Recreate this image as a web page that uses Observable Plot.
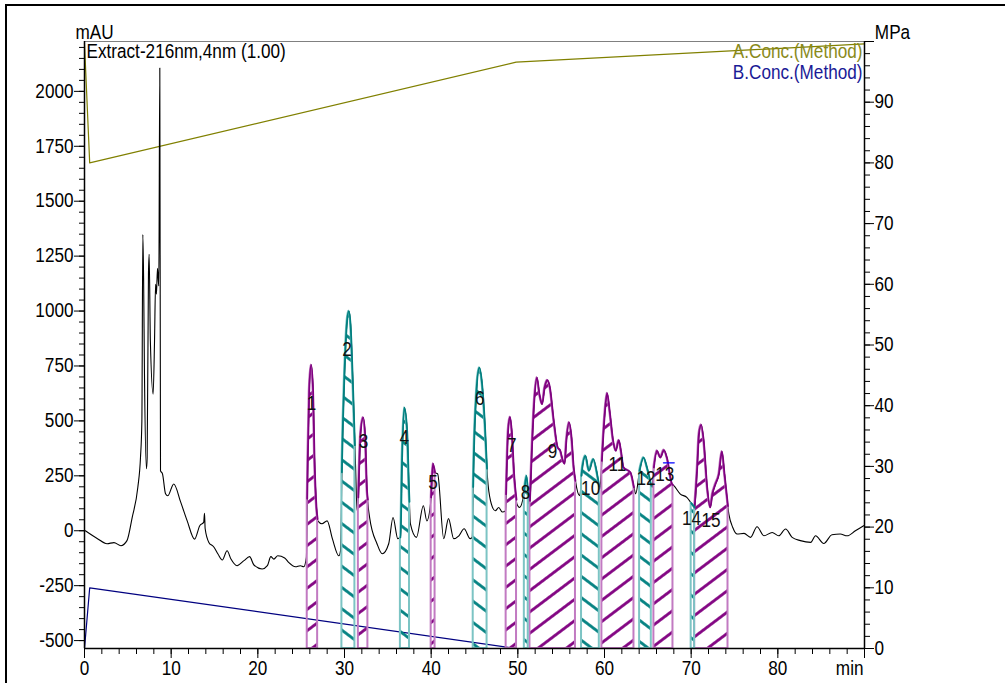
<!DOCTYPE html>
<html><head><meta charset="utf-8">
<script src="https://cdn.jsdelivr.net/npm/d3@7"></script>
<script src="https://cdn.jsdelivr.net/npm/@observablehq/plot@0.6"></script>
<style>
body{margin:0;background:#fff;}
#wrap{position:relative;width:1005px;height:683px;overflow:hidden;background:#fff;}
#border{position:absolute;left:5px;top:4px;width:1010px;height:690px;border-top:2px solid #000;border-left:2px solid #000;pointer-events:none;}
</style></head><body><div id="wrap"><div id="border"></div></div>
<script>
// ---- data ----
const signal = [
[0.1,0],[1.5,-36],[2.6,-59],[3.4,-54],[4.2,-68],[4.9,-45],[5.5,60],[6.15,197],[6.46,333],[6.62,500],[6.73,1348],[6.82,1150],[6.92,713],[7.15,282],[7.23,333],[7.38,1168],[7.46,1258],[7.6,864],[7.92,622],[8.08,864],[8.2,1122],[8.3,1077],[8.42,1195],[8.57,1114],[8.69,2106],[8.77,273],[9.0,259],[9.35,168],[9.6,159],[10.3,213],[11.1,130],[11.85,45],[12.7,-38],[13.3,23],[13.75,38],[13.85,79],[13.92,10],[14.35,-53],[14.9,-73],[15.4,-106],[15.9,-133],[16.45,-91],[16.9,-129],[17.6,-159],[18.4,-136],[19.05,-118],[19.55,-156],[20.5,-174],[21.1,-159],[21.5,-118],[21.85,-129],[22.3,-114],[23.1,-124],[23.55,-144],[24.35,-164],[24.9,-159],[25.3,-164],[25.6,-121],
[25.77,333],[25.93,636],[26.15,755],[26.38,636],[26.54,333],[26.77,106],[26.92,45],[27.4,32],[28,45],[28.6,-36],[29.35,-114],[29.54,-91],
[29.73,333],[30.0,712],[30.3,955],[30.5,1000],[30.7,940],[31.0,636],[31.27,303],[31.45,91],
[31.6,152],[31.85,440],[32.15,515],[32.4,424],[32.6,182],[32.9,60],[33.75,-59],[34.35,-105],[35.1,-59],[35.6,60],[36.15,-36],[36.46,-30],
[36.65,333],[36.9,560],[37.23,455],[37.45,182],[37.6,32],[38.3,-30],[39.1,114],[39.5,45],
[40.0,152],[40.2,305],[40.45,265],[40.75,259],[41.45,-36],[42,55],[42.6,-36],[43.2,-23],[43.8,9],[44.5,-36],[44.73,-30],
[44.92,333],[45.23,636],[45.55,742],[45.88,667],[46.2,485],[46.5,242],[46.85,136],[47.4,91],[47.8,106],[48.2,85],[48.6,91],
[48.7,242],[48.88,455],[49.1,518],[49.3,455],[49.6,242],[49.9,121],[50.2,106],
[50.7,167],[51.0,250],[51.3,121],[51.4,136],
[51.65,394],[51.9,591],[52.2,697],[52.5,621],[52.8,576],[53.1,652],[53.4,685],[53.7,652],[54.15,500],[54.6,379],[54.9,364],[55.2,318],[55.4,305],[55.6,409],[55.9,493],[56.2,424],[56.45,288],[56.65,227],[57.15,159],
[57.4,273],[57.8,341],[58.2,273],[58.7,326],[59.15,258],[59.45,189],
[59.7,318],[60.0,515],[60.3,626],[60.6,545],[61.0,409],[61.3,364],[61.65,412],[61.9,364],[62.2,288],[63.0,265],[63.4,197],[63.6,168],
[64.05,273],[64.5,333],[64.9,288],[65.4,205],[65.5,197],
[65.7,288],[66.05,364],[66.45,333],[66.85,367],[67.2,333],[67.8,212],[68.0,205],[68.75,167],[69.5,152],[70.1,121],
[70.4,106],[70.7,288],[70.9,440],[71.15,482],[71.45,409],[71.85,197],[72.2,106],[72.45,167],[72.8,212],[73.2,258],[73.55,361],[73.85,258],[74.35,76],[74.8,15],[75.3,-15],[76.1,-12],[76.85,-30],[77.6,18],[78.4,-23],[79.35,-8],[80.1,-23],[80.9,8],[81.65,-30],[82.6,-45],[83.8,-53],[84.35,-23],[85.3,-58],[86.25,-18],[87.2,-15],[88,-23],[88.95,0],[89.9,23]
];
// peaks
const peakIds    = [1,2,3,4,5,6,7,8,9,10,11,12,13,14,15];
const peakStart  = [25.7,29.7,31.6,36.45,40.0,44.85,48.65,50.75,51.4,57.35,59.7,64.05,65.7,70.0,70.4];
const peakEnd    = [26.9,31.2,32.7,37.5,40.45,46.45,49.85,51.2,56.65,59.4,63.4,65.4,67.9,70.4,74.25];
const peakKind   = ["P","T","P","T","P","T","P","T","P","T","P","T","P","T","P"];
const labelT     = [26.2,30.3,32.2,36.9,40.2,45.6,49.3,50.9,54.0,58.4,61.5,64.8,66.95,70.05,72.3];
const labelV     = [577,823,405,423,218,600,386,173,359,191,300,236,255,55,45];
// pump concentrations, in MPa (right axis)
const concA = [[0,99.7],[0.6,80],[49.8,96.6],[90,99.6]];
const concB = [[0,0],[0.6,10],[49.85,0],[90,0]];
const blueMark = [[66.8,309],[68.05,309]];
// ticks
const leftMajor  = [-500,-250,0,250,500,750,1000,1250,1500,1750,2000];
const rightMajor = [0,10,20,30,40,50,60,70,80,90,100];
const xMajor     = [0,10,20,30,40,50,60,70,80,90];
const xLabels    = ["0","10","20","30","40","50","60","70","80",""];

// ---- scales helpers ----
const YMIN = -536, YMAX = 2227;
const toY = p => YMIN + p * (YMAX - YMIN) / 100;
const fromY = v => Math.round((v - YMIN) / (YMAX - YMIN) * 100);
const FONT = "'Liberation Sans',Arial,sans-serif";
const FS = 19.5;
const SX = 0.88; // horizontal condensing of all text (narrow face)

const sig = signal.map(([t, v]) => ({t, v}));
function valAt(t) {
  const i = d3.bisector(d => d.t).right(sig, t);
  const a = sig[Math.max(0, i - 1)], b = sig[Math.min(sig.length - 1, i)];
  if (b.t === a.t) return a.v;
  return a.v + (b.v - a.v) * (t - a.t) / (b.t - a.t);
}
const peakPts = [];
peakIds.forEach((id, k) => {
  const s = peakStart[k], e = peakEnd[k], kind = peakKind[k];
  peakPts.push({id, kind, t: s, v: valAt(s)});
  sig.filter(d => d.t > s && d.t < e).forEach(d => peakPts.push({id, kind, t: d.t, v: d.v}));
  peakPts.push({id, kind, t: e, v: valAt(e)});
});
const purple = peakPts.filter(d => d.kind === "P");
const teal = peakPts.filter(d => d.kind === "T");
const labels = peakIds.map((id, k) => ({text: String(id), t: labelT[k], v: labelV[k]}));

const minorLeft = d3.range(-500, 2201, 50);
const minorRight = d3.range(0, 101, 2).map(toY);
const minorX = d3.range(0, 91, 2);

const curve = "monotone-x";
const chart = Plot.plot({
  width: 1005, height: 683,
  marginLeft: 84, marginRight: 141, marginTop: 41, marginBottom: 35,
  x: {domain: [0, 90], axis: null},
  y: {domain: [YMIN, YMAX], axis: null},
  style: {fontFamily: FONT, fontSize: FS + "px", background: "transparent", color: "#000"},
  marks: [
    Plot.ruleY([YMAX], {stroke: "#808080", strokeWidth: 1.2}),
    Plot.line(concA, {x: d => d[0], y: d => toY(d[1]), stroke: "#808000", strokeWidth: 1.2}),
    Plot.line(concB, {x: d => d[0], y: d => toY(d[1]), stroke: "#000080", strokeWidth: 1.2}),
    Plot.line(sig, {x: "t", y: "v", stroke: "#000", strokeWidth: 1.1, curve}),
    Plot.areaY(purple, {x: "t", y1: d => YMIN, y2: "v", z: "id", fill: "url(#hatchP)", stroke: "#c27ac2", strokeWidth: 2, curve}),
    Plot.areaY(teal, {x: "t", y1: d => YMIN, y2: "v", z: "id", fill: "url(#hatchT)", stroke: "#7cc4c4", strokeWidth: 2, curve}),
    Plot.line(purple, {x: "t", y: "v", z: "id", stroke: "#800080", strokeWidth: 1.8, curve}),
    Plot.line(teal, {x: "t", y: "v", z: "id", stroke: "#008080", strokeWidth: 1.8, curve}),
    Plot.line(blueMark, {x: d => d[0], y: d => d[1], stroke: "#0000ff", strokeWidth: 1.2}),
    Plot.ruleX([0], {stroke: "#000", strokeWidth: 1.5}),
    Plot.ruleX([90], {stroke: "#000", strokeWidth: 1.5}),
    Plot.ruleY([YMIN], {stroke: "#000", strokeWidth: 1.5}),
    Plot.axisY({ticks: leftMajor, tickSize: 10, tickPadding: 1, fontSize: FS, label: null, tickFormat: d => String(d)}),
    Plot.axisY({ticks: minorLeft, tickSize: 5, tickFormat: () => "", label: null}),
    Plot.axisY({anchor: "right", ticks: rightMajor.map(toY), tickSize: 9, tickPadding: 1, fontSize: FS, label: null,
      tickFormat: d => fromY(d) === 100 ? "" : String(fromY(d))}),
    Plot.axisY({anchor: "right", ticks: minorRight, tickSize: 5, tickFormat: () => "", label: null}),
    Plot.axisX({anchor: "bottom", ticks: xMajor, tickSize: 10, tickPadding: 3, fontSize: FS, label: null,
      tickFormat: d => xLabels[xMajor.indexOf(d)]}),
    Plot.axisX({anchor: "bottom", ticks: minorX, tickSize: 6, tickFormat: () => "", label: null}),
    Plot.text(labels, {x: "t", y: "v", text: "text", fontSize: FS, fill: "#111"}),
    Plot.text(["mAU"], {frameAnchor: "top-left", dx: 10, dy: -3, lineAnchor: "bottom", textAnchor: "middle", fontSize: FS}),
    Plot.text(["MPa"], {frameAnchor: "top-right", dx: 28, dy: -3, lineAnchor: "bottom", textAnchor: "middle", fontSize: FS}),
    Plot.text(["Extract-216nm,4nm (1.00)"], {frameAnchor: "top-left", dx: 2, dy: 3, lineAnchor: "top", textAnchor: "start", fontSize: FS}),
    Plot.text(["A.Conc.(Method)"], {frameAnchor: "top-right", dx: -2, dy: 3, lineAnchor: "top", textAnchor: "end", fontSize: FS, fill: "#8a8a1a"}),
    Plot.text(["B.Conc.(Method)"], {frameAnchor: "top-right", dx: -2, dy: 24, lineAnchor: "top", textAnchor: "end", fontSize: FS, fill: "#1a1a96"}),
    Plot.text(["min"], {frameAnchor: "bottom-right", dx: -1, dy: 13, lineAnchor: "top", textAnchor: "end", fontSize: FS})
  ]
});

// hatch patterns
const svg = d3.select(chart);
const defs = svg.insert("defs", ":first-child");
[["hatchP", "#800080", -37], ["hatchT", "#008080", 37]].forEach(([id, col, ang]) => {
  const p = defs.append("pattern").attr("id", id).attr("patternUnits", "userSpaceOnUse")
    .attr("width", 17).attr("height", 17).attr("patternTransform", `rotate(${ang})`);
  p.append("line").attr("x1", -1).attr("x2", 18).attr("y1", 8.5).attr("y2", 8.5)
    .attr("stroke", col).attr("stroke-width", 2.8);
});
// condense text horizontally around its anchor point
svg.selectAll("text").each(function() {
  const tr = this.getAttribute("transform") || "";
  const x = +this.getAttribute("x") || 0;
  this.setAttribute("transform", `${tr} translate(${x},0) scale(${SX},1) translate(${-x},0)`);
});
document.getElementById("wrap").prepend(chart);
chart.style.position = "absolute"; chart.style.left = "0"; chart.style.top = "0";
</script>
</body></html>
